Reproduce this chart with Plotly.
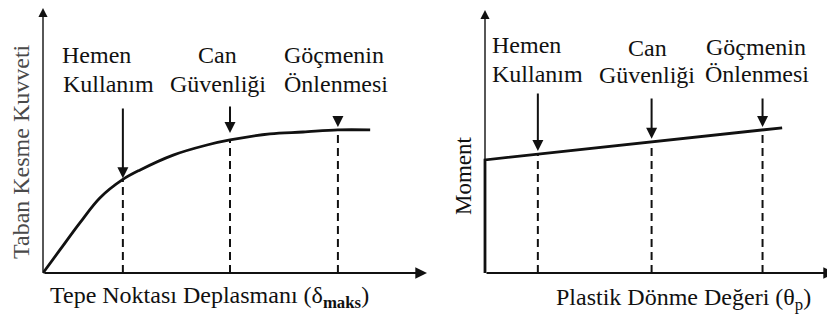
import plotly.graph_objects as go

OFF = 8                     # page body margin of the HTML page
W, H = 835 - OFF, 324 - OFF

# ---------------- data ----------------
# Left: base shear vs roof displacement (arbitrary units)
push_x = [0.0, 0.44, 0.96, 1.48, 2.08, 2.53, 3.39, 4.27, 4.87, 5.91, 6.77, 7.68, 8.52]
push_y = [0.0, 0.87, 1.89, 2.83, 3.53, 3.89, 4.45, 4.83, 5.02, 5.25, 5.32, 5.40, 5.40]
left_level_x = [2.08, 4.87, 7.68]
left_level_y = [3.53, 5.02, 5.40]
left_arrow_top = [6.26, 6.34, 5.96]
left_arrow_tip = [3.58, 5.28, 5.51]

# Right: moment vs plastic rotation (arbitrary units)
hinge_x = [0.0, 0.0, 8.49]
hinge_y = [0.0, 4.30, 5.52]
right_level_x = [1.51, 4.76, 7.93]
right_level_y = [4.52, 4.98, 5.44]
right_arrow_top = [6.88, 6.69, 6.69]
right_arrow_tip = [4.64, 5.10, 5.55]

level_line1 = ["Hemen", "Can", "Göçmenin"]
level_line2 = ["Kullanım", "Güvenliği", "Önlenmesi"]

FONT = "Liberation Serif"
INK = "#111111"

# ---------------- geometry helpers (window pixels -> paper) ----------------
def px(x):
    return (x - OFF) / W

def py(y):
    return 1 - (y - OFF) / H

# left panel: x 0..10 -> px 43..427 ; y 0..10 -> px 273..8
LX0, LX1, LY0, LY1 = 43, 427, 273, 8
# right panel: x 0..10 -> px 485..835 ; y 0..10 -> px 273..10
RX0, RX1, RY0, RY1 = 485, 835, 273, 10
PAD = 0.3

def dom_x(p0, p1, lo, hi):
    s = (p1 - p0) / 10.0
    return [max(0, px(p0 + lo * s)), min(1, px(p0 + hi * s))]

def dom_y(p0, p1, lo, hi):
    s = (p0 - p1) / 10.0
    return [max(0, py(p0 - lo * s)), min(1, py(p0 - hi * s))]

def rng_y(p0, p1, lo, hi):
    s = (p0 - p1) / 10.0
    top_px = max(OFF, p1 - (hi - 10) * s)
    return [lo, (p0 - top_px) / s]

fig = go.Figure()

fig.add_trace(go.Scatter(x=push_x, y=push_y, mode="lines",
                         line=dict(color=INK, width=2.8, shape="spline", smoothing=1.0),
                         xaxis="x", yaxis="y", hoverinfo="skip"))
fig.add_trace(go.Scatter(x=hinge_x, y=hinge_y, mode="lines",
                         line=dict(color=INK, width=2.8),
                         xaxis="x2", yaxis="y2", hoverinfo="skip"))

for xv, yv in zip(left_level_x, left_level_y):
    fig.add_trace(go.Scatter(x=[xv, xv], y=[0, yv], mode="lines",
                             line=dict(color=INK, width=2, dash="8px,5px"),
                             xaxis="x", yaxis="y", hoverinfo="skip"))
for xv, yv in zip(right_level_x, right_level_y):
    fig.add_trace(go.Scatter(x=[xv, xv], y=[0, yv], mode="lines",
                             line=dict(color=INK, width=2, dash="8px,5px"),
                             xaxis="x2", yaxis="y2", hoverinfo="skip"))

ann = []

def axis_arrow(xr, yr, x, y, ax, ay, w=1.4):
    ann.append(dict(x=x, y=y, ax=ax, ay=ay, xref=xr, yref=yr, axref=xr, ayref=yr,
                    text="", showarrow=True, arrowhead=2, arrowsize=1.3,
                    arrowwidth=w, arrowcolor=INK))

axis_arrow("x", "y", 0, 10, 0, 0)
axis_arrow("x", "y", 10, 0, 0, 0, 1.8)
axis_arrow("x2", "y2", 0, 10, 0, 0)
axis_arrow("x2", "y2", 10, 0, 0, 0, 1.8)

for xv, t, b in zip(left_level_x, left_arrow_top, left_arrow_tip):
    ann.append(dict(x=xv, y=b, ax=xv, ay=t, xref="x", yref="y", axref="x", ayref="y",
                    text="", showarrow=True, arrowhead=2, arrowsize=1.1,
                    arrowwidth=2, arrowcolor=INK))
for xv, t, b in zip(right_level_x, right_arrow_top, right_arrow_tip):
    ann.append(dict(x=xv, y=b, ax=xv, ay=t, xref="x2", yref="y2", axref="x2", ayref="y2",
                    text="", showarrow=True, arrowhead=2, arrowsize=1.1,
                    arrowwidth=2, arrowcolor=INK))

def label(text, x, y, anchor="center", size=24, color=INK, angle=0):
    ann.append(dict(text=text, x=px(x), y=py(y), xref="paper", yref="paper",
                    xanchor=anchor, yanchor="middle", showarrow=False, textangle=angle,
                    font=dict(family=FONT, size=size, color=color)))

label(level_line1[0], 60, 55, "left")
label(level_line2[0], 61, 84, "left")
label(level_line1[1], 217, 55)
label(level_line2[1], 218, 84)
label(level_line1[2], 334, 55)
label(level_line2[2], 336, 84)
label(level_line1[0], 490, 45, "left")
label(level_line2[0], 490, 74, "left")
label(level_line1[1], 647, 48)
label(level_line2[1], 647, 75)
label(level_line1[2], 756, 47)
label(level_line2[2], 757, 74)

label("Tepe Noktası Deplasmanı (δ<sub><b>maks</b></sub>)", 209, 297)
label("Plastik Dönme Değeri (θ<sub>p</sub>)", 683, 299)
label("Taban Kesme Kuvveti", 21, 152, color="#4a4a4a", angle=-90)
label("Moment", 464, 176, size=23, angle=-90)

hidden = dict(visible=False, fixedrange=True)
fig.update_layout(
    width=W, height=H, margin=dict(l=0, r=0, t=0, b=0),
    font=dict(family=FONT, color=INK),
    paper_bgcolor="white", plot_bgcolor="rgba(0,0,0,0)",
    showlegend=False,
    xaxis=dict(domain=dom_x(LX0, LX1, -PAD, 10 + PAD), range=[-PAD, 10 + PAD], anchor="y", **hidden),
    yaxis=dict(domain=dom_y(LY0, LY1, -PAD, 10 + PAD), range=rng_y(LY0, LY1, -PAD, 10 + PAD), anchor="x", **hidden),
    xaxis2=dict(domain=dom_x(RX0, RX1, -PAD, 10), range=[-PAD, 10], anchor="y2", **hidden),
    yaxis2=dict(domain=dom_y(RY0, RY1, -PAD, 10 + PAD), range=rng_y(RY0, RY1, -PAD, 10 + PAD), anchor="x2", **hidden),
    annotations=ann,
)

fig.write_html("out.html")
